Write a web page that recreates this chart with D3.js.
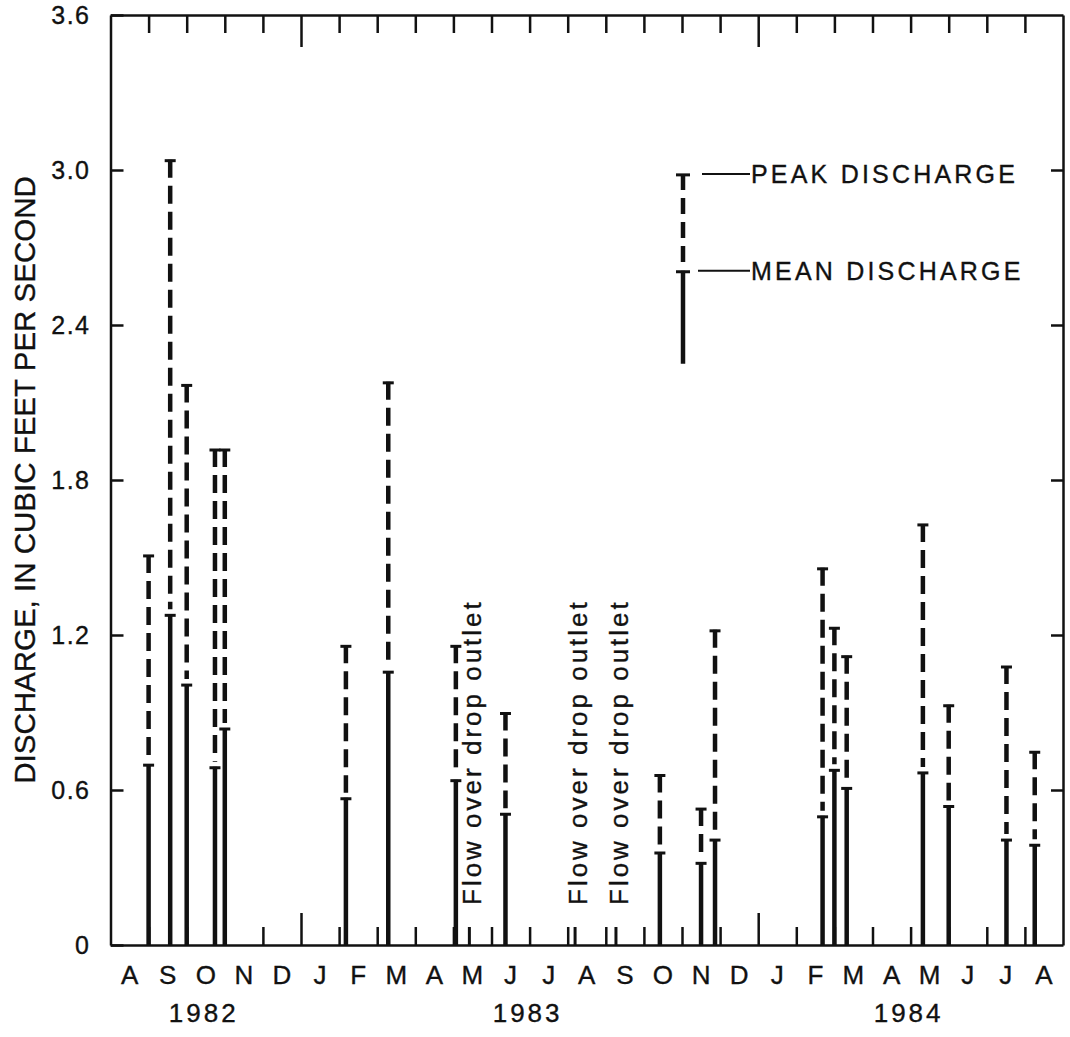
<!DOCTYPE html>
<html>
<head>
<meta charset="utf-8">
<script src="https://cdn.jsdelivr.net/npm/d3@7"></script>
<style>
  body { margin: 0; background: #fff; }
  text { font-family: "Liberation Sans", Arial, Helvetica, sans-serif; fill: #111; stroke: #111; stroke-width: 0.35px; }
</style>
</head>
<body>
<svg id="chart" width="1070" height="1037"></svg>
<script>
// sampling dates, mean and peak discharge (ft3/s)
var eventDates = ["1982-09-01","1982-09-18","1982-10-01","1982-10-24","1982-11-01","1983-02-06","1983-03-10","1983-05-03","1983-06-12","1983-10-14","1983-11-16","1983-11-27","1984-02-21","1984-03-01","1984-03-11","1984-05-11","1984-06-01","1984-07-17","1984-08-09"];
var meanDischarge = [0.70,1.28,1.01,0.69,0.84,0.57,1.06,0.64,0.51,0.36,0.32,0.41,0.50,0.68,0.61,0.67,0.54,0.41,0.39];
var peakDischarge = [1.51,3.04,2.17,1.92,1.92,1.16,2.18,1.16,0.90,0.66,0.53,1.22,1.46,1.23,1.12,1.63,0.93,1.08,0.75];

// storms where the water went over the drop outlet
var flowOverDates = ["1983-05-14","1983-08-07","1983-09-09"];
var flowOverLabel = "Flow over drop outlet";

var monthLabels = ["A","S","O","N","D","J","F","M","A","M","J","J","A","S","O","N","D","J","F","M","A","M","J","J","A"];
var yearLabels = ["1982","1983","1984"];
var yTicks = [0,0.6,1.2,1.8,2.4,3.0,3.6];

var svg = d3.select("#chart");
var parse = d3.timeParse("%Y-%m-%d");
var startYear = 1982, startMonth = 7; // august 1982

// every month gets the same width on this chart
function monthIndex(s){
    var d = parse(s);
    var days = new Date(d.getFullYear(), d.getMonth()+1, 0).getDate();
    return (d.getFullYear()-startYear)*12 + d.getMonth() - startMonth + (d.getDate()-1)/days;
}

var x = d3.scaleLinear().domain([0, monthLabels.length]).range([110.5, 1063]);
var y = d3.scaleLinear().domain([0, 3.6]).range([945, 15]);

var monthTicks = d3.range(1, monthLabels.length);
function isJan(n){ return (n + startMonth) % 12 == 0; }

// axes (ticks point inward)
var gB = svg.append("g").attr("transform","translate(0,"+y(0)+")")
    .call(d3.axisBottom(x).tickValues(monthTicks).tickSize(-18).tickSizeOuter(0).tickFormat(""));
var gT = svg.append("g").attr("transform","translate(0,"+y(3.6)+")")
    .call(d3.axisTop(x).tickValues(monthTicks).tickSize(-18).tickSizeOuter(0).tickFormat(""));
[gB,gT].forEach(function(g){
    g.selectAll(".tick line").filter(function(d){ return isJan(d); }).attr("y2", g===gB ? -32 : 32);
});
var gL = svg.append("g").attr("transform","translate("+x(0)+",0)")
    .call(d3.axisLeft(y).tickValues(yTicks).tickSize(-13).tickSizeOuter(0).tickPadding(20)
        .tickFormat(function(d){ return d==0 ? "0" : d3.format(".1f")(d); }));
var gR = svg.append("g").attr("transform","translate("+x(monthLabels.length)+",0)")
    .call(d3.axisRight(y).tickValues(yTicks.slice(1,-1)).tickSize(-12).tickSizeOuter(0).tickFormat(""));

svg.selectAll(".domain").attr("stroke","#111").attr("stroke-width",2.5);
svg.selectAll(".tick line").attr("stroke","#111").attr("stroke-width",2.5);
gL.selectAll("text").style("font-size","25px").style("letter-spacing","1.5px").attr("fill","#111")
    .style("font-family","'Liberation Sans', Arial, sans-serif");

// month letters centred in each month
svg.append("g").selectAll("text").data(monthLabels).enter().append("text")
    .attr("x", function(d,i){ return x(i+0.5); })
    .attr("y", 984)
    .attr("text-anchor","middle")
    .style("font-size","26px")
    .text(function(d){ return d; });

// years centred under their months
var yearSpans = [[0,5],[5,17],[17,25]];
svg.append("g").selectAll("text").data(yearLabels).enter().append("text")
    .attr("x", function(d,i){ return x((yearSpans[i][0]+yearSpans[i][1])/2) - 2; })
    .attr("y", 1022)
    .attr("text-anchor","middle")
    .style("font-size","26px")
    .style("letter-spacing","3px")
    .text(function(d){ return d; });

// y title
svg.append("text")
    .attr("transform","translate(35,"+((y(0)+y(3.6))/2)+") rotate(-90)")
    .attr("text-anchor","middle")
    .style("font-size","29.5px")
    .text("DISCHARGE, IN CUBIC FEET PER SECOND");

var events = eventDates.map(function(d,i){
    return {n: monthIndex(d), mean: meanDischarge[i], peak: peakDischarge[i]};
});

var capW = 5.5;
var bars = svg.append("g").selectAll("g").data(events).enter().append("g");
// solid part up to the mean
bars.append("line")
    .attr("x1", function(d){ return x(d.n); }).attr("x2", function(d){ return x(d.n); })
    .attr("y1", y(0)).attr("y2", function(d){ return y(d.mean); })
    .attr("stroke","#111").attr("stroke-width",4.5);
// dashed part from the peak down to the mean
bars.append("line")
    .attr("x1", function(d){ return x(d.n); }).attr("x2", function(d){ return x(d.n); })
    .attr("y1", function(d){ return y(d.peak); }).attr("y2", function(d){ return y(d.mean)-5; })
    .attr("stroke","#111").attr("stroke-width",4.5).attr("stroke-dasharray","18,8");
// T caps
["mean","peak"].forEach(function(k){
    bars.append("line")
        .attr("x1", function(d){ return x(d.n)-capW; }).attr("x2", function(d){ return x(d.n)+capW; })
        .attr("y1", function(d){ return y(d[k])+1; }).attr("y2", function(d){ return y(d[k])+1; })
        .attr("stroke","#111").attr("stroke-width",3);
});

// flow over drop outlet: short marks and rotated notes
var flows = flowOverDates.map(monthIndex);
svg.append("g").selectAll("line").data(flows).enter().append("line")
    .attr("x1", function(d){ return x(d); }).attr("x2", function(d){ return x(d); })
    .attr("y1", y(0)).attr("y2", y(0)-18)
    .attr("stroke","#111").attr("stroke-width",3);
svg.append("g").selectAll("text").data(flows).enter().append("text")
    .attr("transform", function(d){ return "translate("+(x(d)+12)+",905) rotate(-90)"; })
    .style("font-size","26px")
    .style("letter-spacing","3px")
    .text(flowOverLabel);

// legend
var lx = 683;
var leg = svg.append("g");
leg.append("line").attr("x1",lx).attr("x2",lx).attr("y1",y(2.61)).attr("y2",y(2.25))
    .attr("stroke","#111").attr("stroke-width",4.5);
leg.append("line").attr("x1",lx).attr("x2",lx).attr("y1",y(2.985)).attr("y2",y(2.61)-5)
    .attr("stroke","#111").attr("stroke-width",4.5).attr("stroke-dasharray","16,8");
[[2.985,"PEAK DISCHARGE",702],[2.61,"MEAN DISCHARGE",698]].forEach(function(l){
    leg.append("line").attr("x1",lx-7).attr("x2",lx+7).attr("y1",y(l[0])+1).attr("y2",y(l[0])+1)
        .attr("stroke","#111").attr("stroke-width",3);
    leg.append("line").attr("x1",l[2]).attr("x2",750).attr("y1",y(l[0])).attr("y2",y(l[0]))
        .attr("stroke","#111").attr("stroke-width",2);
    leg.append("text").attr("x",751).attr("y",y(l[0])).attr("dy","0.36em")
        .style("font-size","25px").style("letter-spacing","3.2px").text(l[1]);
});
</script>
</body>
</html>
